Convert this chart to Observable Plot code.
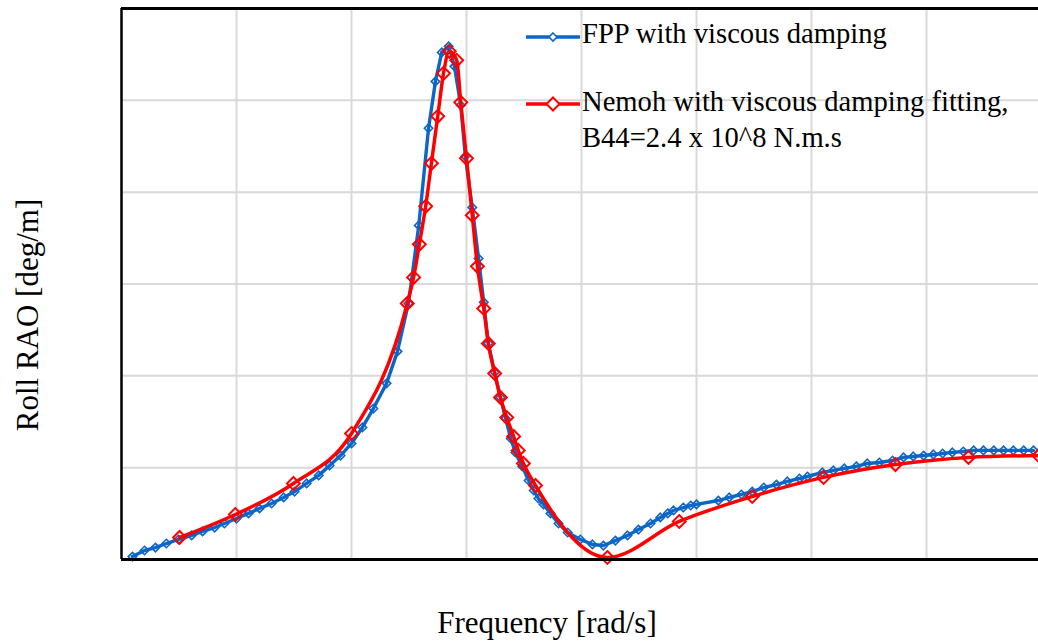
<!DOCTYPE html>
<html><head><meta charset="utf-8">
<script src="https://cdn.jsdelivr.net/npm/d3@7"></script>
<script src="https://cdn.jsdelivr.net/npm/@observablehq/plot@0.6"></script>
<style>
html,body{margin:0;padding:0;background:#fff;overflow:hidden;}
#chart{position:relative;width:1038px;height:644px;}
</style></head><body><div id="chart"></div>
<script>
// FPP with viscous damping
const fppFreq = [0.019,0.040,0.059,0.078,0.099,0.122,0.141,0.162,0.179,0.200,0.221,0.240,0.261,0.282,0.301,0.322,0.343,0.362,0.381,0.400,0.419,0.438,0.461,0.480,0.499,0.517,0.534,0.546,0.557,0.569,0.579,0.590,0.598,0.610,0.621,0.630,0.638,0.649,0.659,0.668,0.677,0.685,0.697,0.708,0.717,0.725,0.734,0.746,0.760,0.776,0.798,0.819,0.838,0.859,0.880,0.899,0.920,0.937,0.950,0.960,0.977,0.990,1.000,1.038,1.057,1.078,1.097,1.117,1.139,1.158,1.179,1.193,1.219,1.238,1.257,1.278,1.297,1.318,1.341,1.360,1.377,1.395,1.412,1.428,1.445,1.464,1.482,1.499,1.517,1.534,1.551,1.569,1.586];
const fppRao  = [0.016,0.049,0.065,0.087,0.109,0.131,0.153,0.174,0.196,0.223,0.251,0.278,0.305,0.338,0.370,0.414,0.458,0.512,0.566,0.632,0.719,0.822,0.959,1.133,1.394,1.819,2.348,2.603,2.761,2.794,2.685,2.473,2.195,1.917,1.639,1.400,1.176,1.019,0.882,0.768,0.659,0.583,0.507,0.430,0.376,0.332,0.300,0.251,0.196,0.147,0.109,0.082,0.076,0.103,0.131,0.163,0.196,0.229,0.251,0.267,0.283,0.294,0.300,0.321,0.338,0.354,0.370,0.392,0.408,0.425,0.441,0.452,0.474,0.485,0.496,0.507,0.523,0.528,0.539,0.556,0.561,0.566,0.572,0.577,0.583,0.588,0.594,0.594,0.594,0.594,0.594,0.594,0.594];
// Nemoh with viscous damping fitting
const nemohFreq = [0.101,0.198,0.299,0.400,0.497,0.508,0.518,0.529,0.539,0.550,0.560,0.570,0.583,0.590,0.600,0.610,0.619,0.630,0.638,0.649,0.659,0.670,0.682,0.690,0.699,0.720,0.845,0.970,1.097,1.221,1.346,1.473,1.595];
const nemohRao  = [0.120,0.245,0.414,0.686,1.394,1.536,1.716,1.923,2.157,2.413,2.647,2.767,2.718,2.489,2.184,1.874,1.596,1.367,1.176,1.013,0.882,0.773,0.670,0.594,0.523,0.403,0.011,0.207,0.343,0.447,0.517,0.556,0.566];

const xGrid = [0.2,0.4,0.6,0.8,1.0,1.2,1.4];
const yGrid = [0.5,1.0,1.5,2.0,2.5];
const xDomain = [0, 1.5948];
const yDomain = [0, 3];
const legendLines = [["FPP with viscous damping"], ["Nemoh with viscous damping fitting,", "B44=2.4 x 10^8 N.m.s"]];
const xLabel = "Frequency [rad/s]";
const yLabel = "Roll RAO [deg/m]";

const fpp = fppFreq.map((f, i) => ({f, r: fppRao[i]}));
const nemoh = nemohFreq.map((f, i) => ({f, r: nemohRao[i]}));
const blue = "#0b66c8", red = "#ff0000", gridC = "#d9d9d9";
const font = "'Liberation Serif','Times New Roman',serif";

const plot = Plot.plot({
  width: 1038, height: 644,
  marginLeft: 121, marginRight: 0, marginTop: 8, marginBottom: 85,
  style: {fontFamily: font, background: "white"},
  x: {domain: xDomain, axis: null},
  y: {domain: yDomain, axis: null},
  marks: [
    Plot.ruleX(xGrid, {stroke: gridC, strokeWidth: 2}),
    Plot.ruleY(yGrid, {stroke: gridC, strokeWidth: 2}),
    Plot.line(fpp, {x: "f", y: "r", stroke: blue, strokeWidth: 3.4}),
    Plot.dot(fpp, {x: "f", y: "r", symbol: "diamond2", r: 3.8, stroke: blue, strokeWidth: 1.6, fill: "none"}),
    Plot.line(nemoh, {x: "f", y: "r", stroke: red, strokeWidth: 3.5, curve: "monotone-x"}),
    Plot.dot(nemoh, {x: "f", y: "r", symbol: "diamond2", r: 5.8, stroke: red, strokeWidth: 2, fill: "none"}),
    Plot.ruleX([0], {stroke: "black", strokeWidth: 2.5}),
    Plot.ruleY([0], {stroke: "black", strokeWidth: 3}),
    Plot.ruleY([3], {stroke: "black", strokeWidth: 3}),
    Plot.text([xLabel], {frameAnchor: "bottom", dx: -33, dy: 64, fontSize: 31, fill: "black", fontFamily: font, textAnchor: "middle", lineAnchor: "middle"}),
    Plot.text([yLabel], {frameAnchor: "left", dx: -93, dy: 31, rotate: -90, fontSize: 31, fill: "black", fontFamily: font, textAnchor: "middle", lineAnchor: "middle"})
  ]
});
document.getElementById("chart").appendChild(plot);

// legend
const svg = d3.select(plot);
const lg = svg.append("g").attr("font-family", font).attr("font-size", 28.6).attr("fill", "black").attr("text-anchor", "start");
const items = [
  {color: blue, y: 37, diag: 4, sw: 1.6, lines: legendLines[0], base: 43},
  {color: red, y: 104, diag: 6.5, sw: 2, lines: legendLines[1], base: 111}
];
items.forEach(it => {
  lg.append("line").attr("x1", 526).attr("x2", 580).attr("y1", it.y).attr("y2", it.y)
    .attr("stroke", it.color).attr("stroke-width", 3.5);
  const d = it.diag;
  lg.append("path").attr("d", `M553,${it.y - d}L${553 + d},${it.y}L553,${it.y + d}L${553 - d},${it.y}Z`)
    .attr("fill", "white").attr("stroke", it.color).attr("stroke-width", it.sw);
  it.lines.forEach((t, k) => {
    lg.append("text").attr("x", 582).attr("y", it.base + k * 36).attr("text-anchor", "start").text(t);
  });
});
</script></body></html>
